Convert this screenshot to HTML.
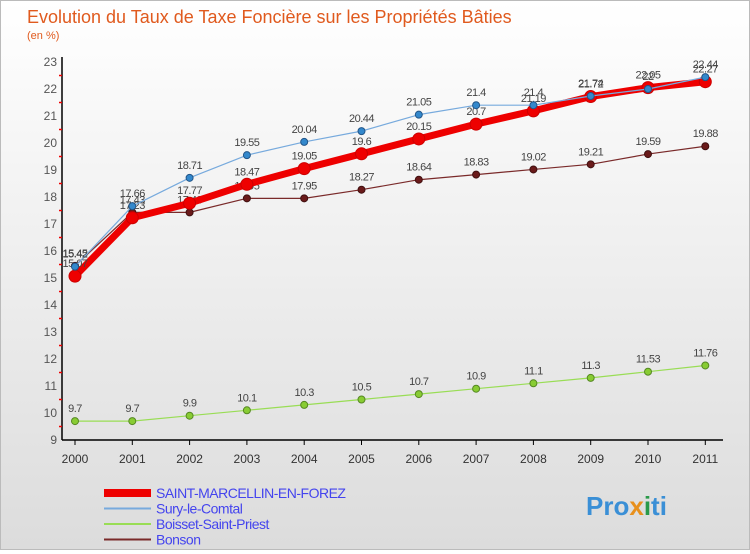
<!DOCTYPE html>
<html><head><meta charset="utf-8"><style>
body{margin:0;width:750px;height:550px;overflow:hidden;font-family:"Liberation Sans",sans-serif;}
#wrap{position:relative;width:748px;height:548px;border:1px solid #bbb;background:linear-gradient(#ffffff,#dcdcdc);}
</style></head><body>
<div id="wrap">
<svg id="chart" width="748" height="548" style="font-family:'Liberation Sans',sans-serif">
<text x="26" y="22" font-size="18" fill="#e05a1e">Evolution du Taux de Taxe Foncière sur les Propriétés Bâties</text>
<text x="26" y="38" font-size="11" fill="#e05a1e">(en %)</text>
<g id="axes"></g><g id="series"></g><g id="legend"></g>
<g><text x="585" y="514" font-size="26" font-weight="bold" fill="#3a8fd6">Pro<tspan fill="#e8901c">x</tspan><tspan fill="#2a9a4a">i</tspan>ti</text></g>
</svg></div>
<script>
const years=[2000,2001,2002,2003,2004,2005,2006,2007,2008,2009,2010,2011];
const yTicks=[9,10,11,12,13,14,15,16,17,18,19,20,21,22,23];
const stMarcellin=[15.07,17.23,17.77,18.47,19.05,19.6,20.15,20.7,21.19,21.72,22.05,22.27];
const sury=[15.42,17.66,18.71,19.55,20.04,20.44,21.05,21.4,21.4,21.74,22,22.44];
const boisset=[9.7,9.7,9.9,10.1,10.3,10.5,10.7,10.9,11.1,11.3,11.53,11.76];
const bonson=[15.45,17.43,17.43,17.95,17.95,18.27,18.64,18.83,19.02,19.21,19.59,19.88];
const names=["SAINT-MARCELLIN-EN-FOREZ","Sury-le-Comtal","Boisset-Saint-Priest","Bonson"];
const NS="http://www.w3.org/2000/svg";
function X(i){return 74+i*57.3;}
function Y(v){return 61+(23-v)*27;}
function mk(t,a,p){const e=document.createElementNS(NS,t);for(const k in a)e.setAttribute(k,a[k]);p.appendChild(e);return e;}
const ax=document.getElementById('axes');
let l=mk('line',{x1:61,y1:56,x2:61,y2:439,stroke:'#000','stroke-width':1.5},ax);


l=mk('line',{x1:61,y1:439,x2:722,y2:439,stroke:'#000','stroke-width':1.5},ax);


yTicks.forEach(v=>{const t=mk('text',{x:56,y:Y(v)+4,'font-size':12,fill:'#555','text-anchor':'end'},ax);t.textContent=v;


if(v<23){mk('line',{x1:58,x2:61,y1:Y(v+0.5),y2:Y(v+0.5),stroke:'#e00','stroke-width':1.5},ax);}
});
years.forEach((yr,i)=>{mk('line',{x1:X(i),x2:X(i),y1:439,y2:444,stroke:'#000'},ax);
const t=mk('text',{x:X(i),y:462,'font-size':12,fill:'#333','text-anchor':'middle'},ax);t.textContent=yr;

});
const sg=document.getElementById('series');
function draw(data,col,dot,lw,r,name,dstroke){
 const g=mk('g',{},sg);
 
 
 mk('polyline',{points:data.map((v,i)=>X(i)+','+Y(v)).join(' '),fill:'none',stroke:col,'stroke-width':lw,'stroke-linejoin':'round'},g);
 data.forEach((v,i)=>{const c=mk('circle',{cx:X(i),cy:Y(v),r:r,fill:dot,stroke:dstroke,'stroke-width':1},g);
 
 
 const t=mk('text',{x:X(i),y:Y(v)-9,'font-size':11,fill:'#444','text-anchor':'middle','letter-spacing':'-0.5'},g);t.textContent=v;});
}
draw(boisset,'#99dd55','#88cc33',1.2,3.5,'series-boisset','#558822');
draw(bonson,'#7a2a2a','#6a1a1a',1.2,3.5,'series-bonson','#401010');
draw(stMarcellin,'#ee0000','#ee0000',7,6,'series-saint-marcellin','#cc0000');
draw(sury,'#77aadd','#3388cc',1.2,3.5,'series-sury','#225588');
const lg=document.getElementById('legend');
const lcols=['#ee0000','#77aadd','#99dd55','#7a2a2a'],lws=[8,2,2,2];
names.forEach((n,i)=>{const y=492+i*15.5;const g=mk('g',{},lg);


mk('line',{x1:103,x2:150,y1:y,y2:y,stroke:lcols[i],'stroke-width':lws[i]},g);
const t=mk('text',{x:155,y:y+5,'font-size':14,fill:'#4444ee','letter-spacing':'-0.5'},g);t.textContent=n;});
</script>
</body></html>
